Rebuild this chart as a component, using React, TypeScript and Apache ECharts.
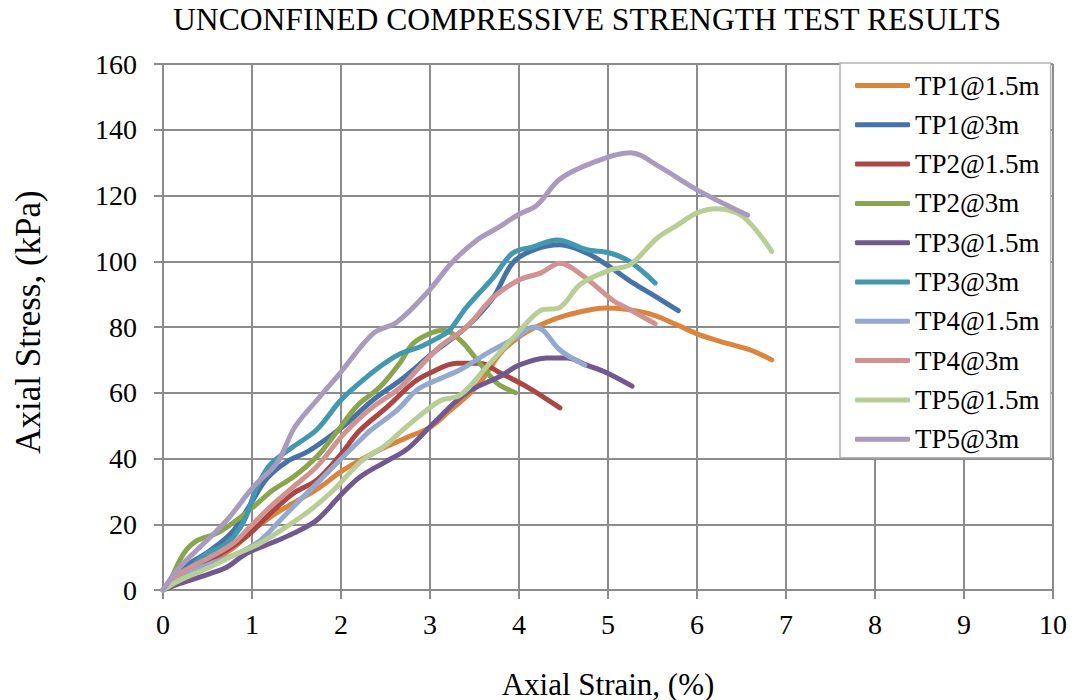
import React, { useEffect, useRef } from "react";
import * as echarts from "echarts";

const FONT = '"Liberation Serif", "Times New Roman", serif';

const seriesNames = [
  "TP1@1.5m", "TP1@3m", "TP2@1.5m", "TP2@3m", "TP3@1.5m",
  "TP3@3m", "TP4@1.5m", "TP4@3m", "TP5@1.5m", "TP5@3m",
];
const seriesColors = [
  "#DB843D", "#4572A7", "#AA4643", "#89A54E", "#71588F",
  "#4198AF", "#93A9CF", "#D19392", "#B9CD96", "#A99BBD",
];

const tp1_15 = [[0,0],[0.2,4],[0.5,8],[0.8,13],[1.0,18],[1.25,23],[1.5,27],[1.75,31],[2.0,36],[2.25,40],[2.5,43.5],[2.75,46.5],[3.0,49.5],[3.2,54],[3.53,62],[3.79,72],[4.0,77],[4.24,80.6],[4.54,83.6],[4.98,85.8],[5.44,84.2],[5.78,80.6],[6.03,77.6],[6.34,75],[6.6,73],[6.84,70]];
const tp1_3 = [[0,0],[0.19,6],[0.53,12],[0.79,18],[0.98,26],[1.17,34],[1.39,39],[1.62,42],[1.84,46],[2.07,50.8],[2.36,57.8],[2.7,64.5],[3.03,72],[3.41,80],[3.71,89],[3.93,99.5],[4.16,103.4],[4.46,105],[4.76,102.5],[5.02,98.3],[5.28,93.4],[5.55,89],[5.79,85]];
const tp2_15 = [[0,0],[0.19,4],[0.49,8.6],[0.72,12.2],[0.94,16.3],[1.21,23.4],[1.47,29.5],[1.73,33.5],[1.99,41],[2.21,48.5],[2.52,55.7],[2.81,63],[3.0,66],[3.3,69],[3.56,69],[3.79,66],[4.09,61.8],[4.46,55.4]];
const tp2_3 = [[0,0],[0.08,3],[0.23,11],[0.38,15],[0.61,17.3],[0.83,21.3],[1.02,25.4],[1.24,30.5],[1.47,34.5],[1.73,40.6],[1.95,48],[2.18,56],[2.44,61.8],[2.66,69],[2.81,75],[3.0,78],[3.15,79],[3.34,76],[3.53,70],[3.75,63],[3.96,60]];
const tp3_15 = [[0,0],[0.19,2],[0.53,5],[0.72,7],[0.94,11.2],[1.21,14.2],[1.47,17.3],[1.73,21.3],[2.0,29],[2.22,34.5],[2.5,39],[2.75,43],[3.03,50.5],[3.41,60],[3.79,65],[4.0,68.4],[4.31,70.6],[4.54,70.6],[4.76,68.4],[4.99,66],[5.27,62]];
const tp3_3 = [[0,0],[0.19,4],[0.49,11],[0.72,14.2],[0.91,21],[1.05,31],[1.2,38],[1.47,43.7],[1.73,48.8],[1.99,57.5],[2.21,63],[2.44,68],[2.66,71.8],[2.89,74],[3.11,77],[3.22,79],[3.41,86],[3.71,95],[3.93,102.5],[4.16,104.4],[4.43,106.5],[4.76,103.5],[5.02,102.5],[5.25,99.8],[5.53,93.4]];
const tp4_15 = [[0,0],[0.19,4],[0.53,8],[0.83,11],[1.09,15],[1.32,21.3],[1.54,27.4],[1.77,33.5],[1.99,39.6],[2.22,45.7],[2.33,48.5],[2.63,54.7],[2.85,60.8],[3.0,63],[3.34,67],[3.64,72],[3.98,77],[4.16,80],[4.27,79],[4.46,73],[4.74,68.4]];
const tp4_3 = [[0,0],[0.19,5],[0.53,10],[0.79,14.2],[0.98,19.3],[1.21,25.4],[1.47,31.5],[1.73,37.6],[2.0,46.5],[2.2,52],[2.36,55.7],[2.66,61.5],[2.89,68],[3.11,74],[3.41,80],[3.71,89],[4.0,94.3],[4.24,96.4],[4.46,99.4],[4.72,95.5],[5.06,88],[5.21,85.8],[5.53,81]];
const tp5_15 = [[0,0],[0.19,3],[0.53,7],[0.83,11],[1.09,14.2],[1.39,19.3],[1.66,24.4],[1.92,30.5],[2.22,39],[2.5,44],[2.75,50],[3.11,57.5],[3.34,59.3],[3.64,68],[3.98,78],[4.24,85],[4.46,86],[4.69,93],[5.02,97.3],[5.25,99],[5.55,107],[5.78,111],[6.0,114.7],[6.22,116],[6.52,113.5],[6.84,103]];
const tp5_3 = [[0,0],[0.19,7],[0.46,14.2],[0.72,21.3],[1.02,31.5],[1.28,38.6],[1.48,49.5],[1.73,57.8],[1.99,66],[2.36,78],[2.63,81.5],[2.97,90.5],[3.26,100],[3.53,106.5],[3.75,110],[4.0,114.3],[4.2,117],[4.46,125],[4.83,130],[5.25,133],[5.58,128.7],[6.0,121.7],[6.57,114]];

const seriesData = [tp1_15, tp1_3, tp2_15, tp2_3, tp3_15, tp3_3, tp4_15, tp4_3, tp5_15, tp5_3];

const GRID_COLOR = "#8c8c8c";

export default function App() {
  const ref = useRef<HTMLDivElement>(null);
  useEffect(() => {
    if (!ref.current) return;
    const chart = echarts.init(ref.current, undefined, { renderer: "svg" });
    const axisCommon = {
      type: "value" as const,
      axisLine: { show: true, lineStyle: { color: GRID_COLOR, width: 2 } },
      axisTick: { show: true, length: 9, lineStyle: { color: GRID_COLOR, width: 2 } },
      splitLine: { show: true, lineStyle: { color: GRID_COLOR, width: 2 } },
    };
    chart.setOption({
      animation: false,
      backgroundColor: "#fff",
      grid: { left: 163, right: 23, top: 64, bottom: 110, containLabel: false },
      xAxis: {
        ...axisCommon,
        min: 0, max: 10, interval: 1,
        axisLabel: { fontSize: 28, fontFamily: FONT, color: "#000", margin: 20 },
      },
      yAxis: {
        ...axisCommon,
        min: 0, max: 160, interval: 20,
        axisLabel: { fontSize: 28, fontFamily: FONT, color: "#000", margin: 26 },
      },
      legend: {
        orient: "vertical",
        left: 840,
        top: 63,
        backgroundColor: "#fff",
        borderColor: "#b4b4b4",
        borderWidth: 1.5,
        padding: [9, 11, 5, 15],
        itemGap: 12.3,
        itemWidth: 55,
        itemHeight: 5,
        icon: "roundRect",
        data: seriesNames,
        textStyle: { fontSize: 27, fontFamily: FONT, color: "#000", lineHeight: 27 },
      },
      graphic: [
        {
          type: "text", x: 587, y: 19,
          style: { text: "UNCONFINED COMPRESSIVE STRENGTH TEST RESULTS", font: `31.6px ${FONT}`, fill: "#000", textAlign: "center", textVerticalAlign: "middle" },
        },
        {
          type: "text", x: 608, y: 684,
          style: { text: "Axial Strain, (%)", font: `31px ${FONT}`, fill: "#000", textAlign: "center", textVerticalAlign: "middle" },
        },
        {
          type: "text", x: 28, y: 322, rotation: Math.PI / 2,
          style: { text: "Axial Stress, (kPa)", font: `35px ${FONT}`, fill: "#000", textAlign: "center", textVerticalAlign: "middle" },
        },
      ],
      series: seriesNames.map((name, i) => ({
        name,
        type: "line",
        data: seriesData[i],
        smooth: 0.35,
        symbol: "none",
        color: seriesColors[i],
        lineStyle: { width: 5, color: seriesColors[i], cap: "round", join: "round" },
        itemStyle: { color: seriesColors[i] },
      })),
    });
    return () => chart.dispose();
  }, []);
  return <div ref={ref} style={{ position: "fixed", left: 0, top: 0, width: 1076, height: 700 }} />;
}
